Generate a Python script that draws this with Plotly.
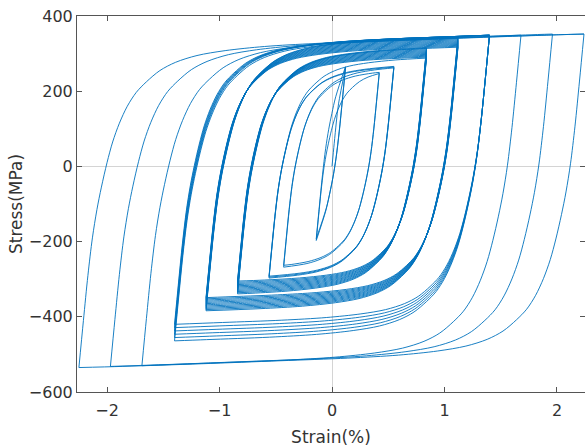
import numpy as np
import plotly.graph_objects as go

# Reversal points of the cyclic strain history, one entry per amplitude level
tension_strain = [0.12, 0.42, 0.55, 0.84, 1.12, 1.40, 1.68, 1.96, 2.24]
compression_strain = [-0.14, -0.43, -0.56, -0.84, -1.12, -1.40, -1.69, -1.97, -2.25]
cycles_per_level = [2, 2, 3, 12, 12, 6, 1, 1, 1]
tension_peak_first = [262, 247, 262, 288, 317, 349, 349, 352, 352]
tension_peak_last = [265, 250, 266, 315, 344, 349, 349, 352, 352]
compression_peak_first = [-192, -263, -292, -305, -349, -420, -530, -532, -535]
compression_peak_last = [-197, -268, -297, -339, -384, -464, -530, -532, -535]

# Reversal-branch profile (strain increment %, stress increment MPa) of the widest loop
branch_dstrain = [0, 0.04, 0.08, 0.12, 0.16, 0.20, 0.25, 0.30, 0.36, 0.43, 0.51,
                  0.60, 0.72, 0.86, 1.05, 1.30, 1.65, 2.10, 2.70, 3.40, 4.10, 4.60]
branch_dstress = [0, 125, 245, 345, 420, 480, 545, 600, 650, 695, 732,
                  760, 790, 812, 830, 843, 854, 862, 869, 877, 884, 888]

ps = np.array(branch_dstrain)
pf = np.array(branch_dstress)


def branch(e0, s0, e1, s1):
    """Points of one half-cycle between two reversals (Masing-type scaling)."""
    d = abs(e1 - e0)
    s = abs(s1 - s0)
    sgn = 1.0 if e1 > e0 else -1.0
    lo, hi = 0.02, 2.0
    for _ in range(60):
        k = 0.5 * (lo + hi)
        if k * np.interp(d / k, ps, pf) < s:
            lo = k
        else:
            hi = k
    k = 0.5 * (lo + hi)
    xs, ys = [], []
    for u, f in zip(ps, pf):
        if k * u < d - 0.06 or u == 0:
            xs.append(e0 + sgn * k * u)
            ys.append(s0 + sgn * k * f)
    xs.append(e1)
    ys.append(s1)
    return xs, ys


# Sequence of reversal points
rev_e, rev_s = [0.0], [0.0]
for lvl in range(len(cycles_per_level)):
    n = cycles_per_level[lvl]
    for c in range(n):
        t = c / (n - 1) if n > 1 else 0.0
        rev_e.append(tension_strain[lvl])
        rev_s.append(tension_peak_first[lvl] + t * (tension_peak_last[lvl] - tension_peak_first[lvl]))
        rev_e.append(compression_strain[lvl])
        rev_s.append(compression_peak_first[lvl] + t * (compression_peak_last[lvl] - compression_peak_first[lvl]))
rev_e.append(tension_strain[-1])
rev_s.append(tension_peak_last[-1])

X, Y = [], []
for i in range(len(rev_e) - 1):
    bx, by = branch(rev_e[i], rev_s[i], rev_e[i + 1], rev_s[i + 1])
    X += bx + [None]
    Y += by + [None]

fig = go.Figure()
fig.add_trace(go.Scatter(
    x=X, y=Y, mode="lines",
    line=dict(color="#0072BD", width=0.9, shape="spline", smoothing=0.9),
    connectgaps=False, showlegend=False, hoverinfo="skip",
))

axis_font = dict(family="DejaVu Sans", size=16, color="#333333")
title_font = dict(family="DejaVu Sans", size=17, color="#333333")
fig.update_xaxes(
    range=[-2.267, 2.249], tickvals=[-2, -1, 0, 1, 2],
    ticks="inside", ticklen=5, tickcolor="#555555", ticklabelstandoff=4,
    showline=True, linecolor="#555555", linewidth=1, mirror="ticks",
    showgrid=False, zeroline=True, zerolinecolor="#d4d4d4", zerolinewidth=1,
    tickfont=axis_font,
    title=dict(text="Strain(%)", font=title_font, standoff=14),
)
fig.update_yaxes(
    range=[-600, 400], tickvals=[-600, -400, -200, 0, 200, 400],
    ticks="inside", ticklen=5, tickcolor="#555555",
    showline=True, linecolor="#555555", linewidth=1, mirror="ticks",
    showgrid=False, zeroline=True, zerolinecolor="#d4d4d4", zerolinewidth=1,
    tickfont=axis_font,
    title=dict(text="Stress(MPa)", font=title_font, standoff=1),
)
fig.update_layout(
    width=585, height=447,
    margin=dict(l=77, r=0, t=16, b=55),
    plot_bgcolor="white", paper_bgcolor="white",
)
fig.write_html("out.html")
